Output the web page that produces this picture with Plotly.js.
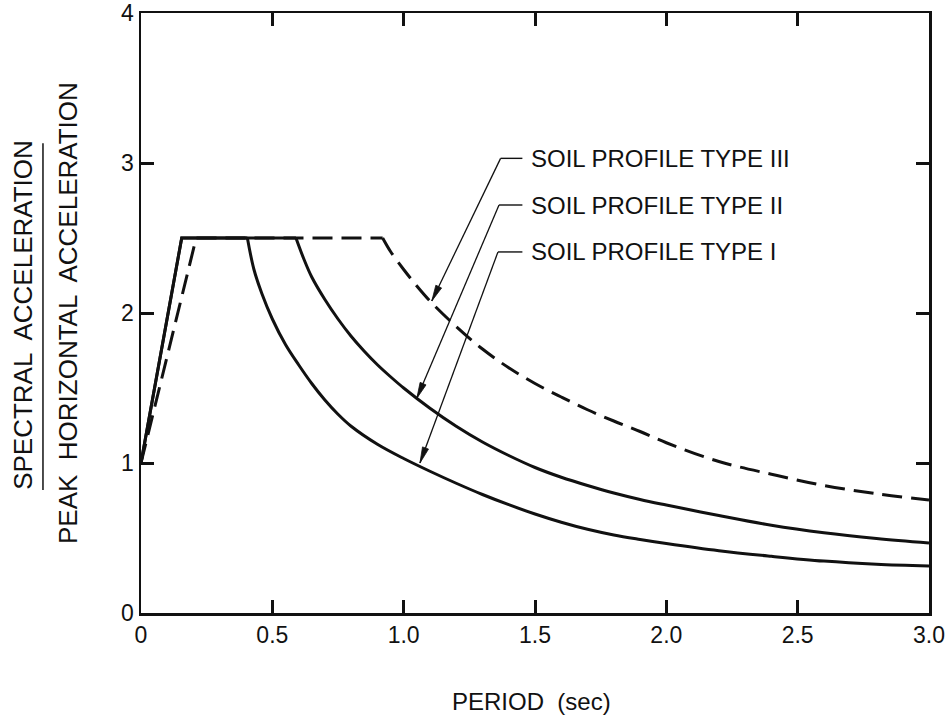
<!DOCTYPE html>
<html>
<head>
<meta charset="utf-8">
<script src="https://cdn.plot.ly/plotly-3.0.1.min.js"></script>
<style>
html, body { margin: 0; padding: 0; background: #fff; }
#chart { width: 951px; height: 718px; }
</style>
</head>
<body>
<div id="chart"></div>
<script>
// Period (sec) and normalized spectral acceleration
// (index 0: T=0, index 1: end of ramp, index 2: end of plateau, then the decaying branch)
var periodType1 = [0, 0.155, 0.405, 0.43, 0.46, 0.5, 0.55, 0.6, 0.65, 0.7, 0.75, 0.8, 0.9, 1.0, 1.1, 1.2, 1.3, 1.4, 1.5, 1.6, 1.7, 1.8, 1.9, 2.0, 2.2, 2.4, 2.6, 2.8, 3.0];
var saType1     = [1.0, 2.5, 2.5, 2.29, 2.13, 1.96, 1.79, 1.655, 1.53, 1.42, 1.325, 1.245, 1.125, 1.03, 0.945, 0.865, 0.79, 0.722, 0.66, 0.605, 0.558, 0.52, 0.49, 0.463, 0.415, 0.378, 0.346, 0.325, 0.313];

var periodType2 = [0, 0.155, 0.59, 0.62, 0.65, 0.7, 0.75, 0.8, 0.85, 0.9, 0.95, 1.0, 1.1, 1.2, 1.3, 1.4, 1.5, 1.6, 1.7, 1.8, 1.9, 2.0, 2.2, 2.4, 2.6, 2.8, 3.0];
var saType2     = [1.0, 2.5, 2.5, 2.36, 2.24, 2.09, 1.96, 1.845, 1.745, 1.655, 1.575, 1.50, 1.365, 1.245, 1.14, 1.05, 0.97, 0.905, 0.85, 0.80, 0.757, 0.72, 0.65, 0.585, 0.535, 0.497, 0.467];

var periodType3 = [0, 0.21, 0.92, 0.95, 1.0, 1.05, 1.1, 1.2, 1.3, 1.4, 1.5, 1.6, 1.7, 1.8, 1.9, 2.0, 2.2, 2.4, 2.6, 2.8, 3.0];
var saType3     = [1.0, 2.5, 2.5, 2.41, 2.29, 2.18, 2.08, 1.91, 1.76, 1.635, 1.53, 1.44, 1.355, 1.28, 1.21, 1.135, 1.01, 0.925, 0.85, 0.795, 0.753];

var xTickVals = [0, 0.5, 1.0, 1.5, 2.0, 2.5, 3.0];
var xTickText = ['0', '0.5', '1.0', '1.5', '2.0', '2.5', '3.0'];
var yTickVals = [0, 1, 2, 3, 4];
var yTickText = ['0', '1', '2', '3', '4'];

var labels = ['SOIL PROFILE TYPE III', 'SOIL PROFILE TYPE II', 'SOIL PROFILE TYPE I'];

var FONT = 'Liberation Sans, Arial, Helvetica, sans-serif';
var INK = '#111111';

var W = 951, H = 718, ML = 141, MR = 22, MT = 13, MB = 105;
var X_RANGE = [0, 3], Y_RANGE = [0, 4];
var pxPerX = (W - ML - MR) / (X_RANGE[1] - X_RANGE[0]);
var pxPerY = (H - MT - MB) / (Y_RANGE[1] - Y_RANGE[0]);

function curveTraces(px, py, name, dash) {
  var ln = { color: INK, width: 3 };
  if (dash) ln.dash = dash;
  var lnS = Object.assign({}, ln, { shape: 'spline', smoothing: 1 });
  return [
    { x: px.slice(0, 3), y: py.slice(0, 3), mode: 'lines', line: ln, name: name, showlegend: false, hoverinfo: 'skip' },
    { x: px.slice(2), y: py.slice(2), mode: 'lines', line: lnS, name: name, showlegend: false, hoverinfo: 'skip' }
  ];
}

var traces = []
  .concat(curveTraces(periodType1, saType1, labels[2], null))
  .concat(curveTraces(periodType2, saType2, labels[1], null))
  .concat(curveTraces(periodType3, saType3, labels[0], '20px,9px'));

// leader geometry: [arrow tip x, tip y, bend x, bend y]
var leaders = [
  [1.107, 2.08, 1.369, 3.031],
  [1.05, 1.431, 1.363, 2.72],
  [1.062, 1.0, 1.359, 2.407]
];
var textStartX = 1.477;
var hlineEndX = 1.452;

var annotations = [];
var shapes = [];

leaders.forEach(function (L, i) {
  shapes.push({ type: 'line', xref: 'x', yref: 'y', x0: L[2], y0: L[3], x1: L[0], y1: L[1],
    line: { color: INK, width: 1.3 } });
  shapes.push({ type: 'line', xref: 'x', yref: 'y', x0: L[2], y0: L[3], x1: hlineEndX, y1: L[3],
    line: { color: INK, width: 1.4 } });
  var dx = (L[2] - L[0]) * pxPerX, dy = (L[3] - L[1]) * pxPerY;
  var len = Math.sqrt(dx * dx + dy * dy), ux = dx / len, uy = dy / len;
  var hl = 16, hw = 3.2;
  var bx = ux * hl, by = uy * hl;
  var p1x = bx - uy * hw, p1y = by + ux * hw;
  var p2x = bx + uy * hw, p2y = by - ux * hw;
  shapes.push({ type: 'path', xref: 'x', yref: 'y', xsizemode: 'pixel', ysizemode: 'pixel',
    xanchor: L[0], yanchor: L[1],
    path: 'M0,0 L' + p1x.toFixed(2) + ',' + p1y.toFixed(2) + ' L' + p2x.toFixed(2) + ',' + p2y.toFixed(2) + ' Z',
    fillcolor: INK, line: { color: INK, width: 0.8 } });
  annotations.push({
    x: textStartX, y: L[3], xref: 'x', yref: 'y',
    text: labels[i], showarrow: false, xanchor: 'left', yanchor: 'middle',
    font: { family: FONT, size: 24, color: INK }
  });
});

// y-axis title as a fraction
annotations.push({
  x: -0.1497, y: 0.497, xref: 'paper', yref: 'paper',
  text: 'SPECTRAL  ACCELERATION', textangle: -90, showarrow: false,
  xanchor: 'center', yanchor: 'middle',
  font: { family: FONT, size: 26, color: INK }
});
annotations.push({
  x: -0.0926, y: 0.5, xref: 'paper', yref: 'paper',
  text: 'PEAK  HORIZONTAL  ACCELERATION', textangle: -90, showarrow: false,
  xanchor: 'center', yanchor: 'middle',
  font: { family: FONT, size: 26, color: INK }
});
shapes.push({
  type: 'line', xref: 'paper', yref: 'paper',
  x0: -0.1244, x1: -0.1244, y0: 0.205, y1: 0.783,
  line: { color: INK, width: 1.5 }
});

// x-axis title
annotations.push({
  x: 0.496, y: -0.148, xref: 'paper', yref: 'paper',
  text: 'PERIOD  (sec)', showarrow: false, xanchor: 'center', yanchor: 'middle',
  font: { family: FONT, size: 24, color: INK }
});

var axisCommon = {
  showgrid: false, zeroline: false,
  showline: true, linecolor: INK, linewidth: 2.5, mirror: 'ticks',
  ticks: 'inside', ticklen: 13, tickwidth: 3, tickcolor: INK,
  tickfont: { family: FONT, size: 23, color: INK },
  ticklabeloverflow: 'allow',
  fixedrange: true
};

var layout = {
  width: W, height: H,
  margin: { l: ML, r: MR, t: MT, b: MB },
  paper_bgcolor: '#ffffff', plot_bgcolor: '#ffffff',
  showlegend: false,
  xaxis: Object.assign({}, axisCommon, {
    range: X_RANGE, tickmode: 'array', tickvals: xTickVals, ticktext: xTickText
  }),
  yaxis: Object.assign({}, axisCommon, {
    range: Y_RANGE, tickmode: 'array', tickvals: yTickVals, ticktext: yTickText
  }),
  annotations: annotations,
  shapes: shapes
};

Plotly.newPlot('chart', traces, layout, { displayModeBar: false, staticPlot: true });
</script>
</body>
</html>
